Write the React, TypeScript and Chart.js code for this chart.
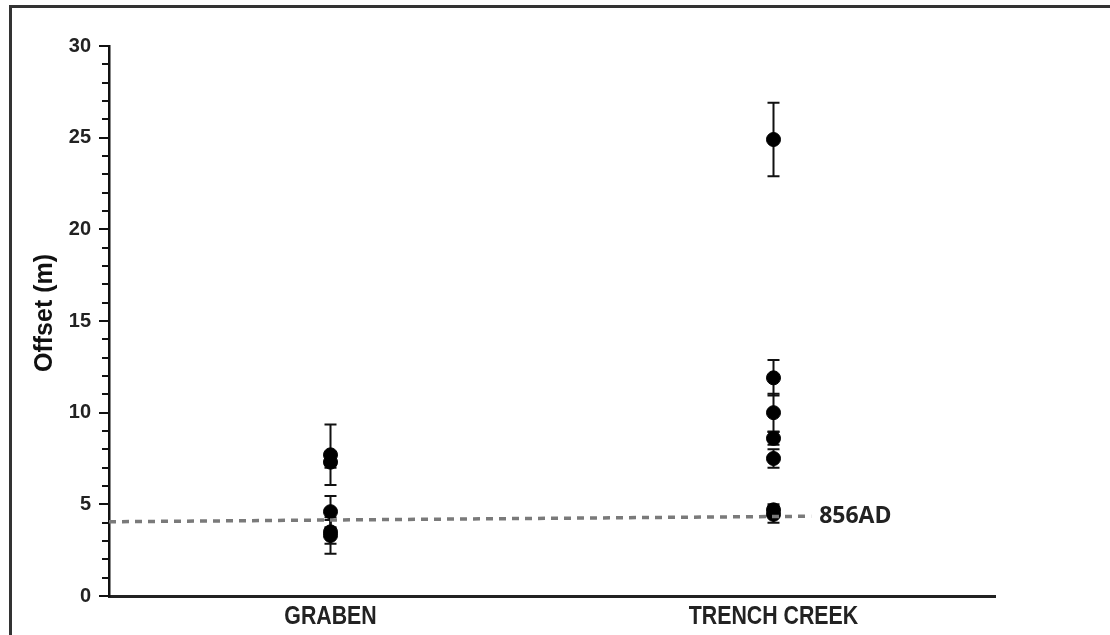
import React, { useEffect, useRef } from 'react';
import { Chart, registerables } from 'chart.js';

Chart.register(...registerables);

// ---- data ----
const categories = ['GRABEN', 'TRENCH CREEK'];
const grabenOffsets = [7.7, 7.3, 4.6, 3.5, 3.3];
const grabenErrors = [1.65, 0.3, 0.85, 0.65, 1.0];
const trenchOffsets = [24.9, 11.9, 10.0, 8.6, 7.5, 4.7, 4.45];
const trenchErrors = [2.0, 0.97, 1.03, 0.35, 0.5, 0.3, 0.45];
const eventLineX = [0, 3.17];
const eventLineY = [4.05, 4.35];
const eventLabel = '856AD';
const yMin = 0;
const yMax = 30;
const yMajorStep = 5;
const yTitle = 'Offset (m)';

// category i sits at x = 1 + 2i on a 0..4 axis
const catX = (i: number) => 1 + 2 * i;

const errorBarPlugin = {
  id: 'errorBars',
  beforeDatasetsDraw(chart: any) {
    const ctx = chart.ctx;
    const xs = chart.scales.x;
    const ys = chart.scales.y;
    chart.data.datasets.forEach((ds: any) => {
      if (!ds.errors) return;
      ds.data.forEach((p: any, i: number) => {
        const e = ds.errors[i];
        const px = xs.getPixelForValue(p.x);
        const yt = ys.getPixelForValue(p.y + e);
        const yb = ys.getPixelForValue(p.y - e);
        ctx.save();
        ctx.strokeStyle = '#111';
        ctx.lineWidth = 2;
        ctx.beginPath();
        ctx.moveTo(px, yt);
        ctx.lineTo(px, yb);
        ctx.moveTo(px - 6, yt);
        ctx.lineTo(px + 6, yt);
        ctx.moveTo(px - 6, yb);
        ctx.lineTo(px + 6, yb);
        ctx.stroke();
        ctx.restore();
      });
    });
  },
};

const axisDecorPlugin = {
  id: 'axisDecor',
  afterDraw(chart: any) {
    const ctx = chart.ctx;
    const ys = chart.scales.y;
    const xs = chart.scales.x;
    const { left, top, bottom } = chart.chartArea;
    ctx.save();
    // y tick marks (major + minor)
    ctx.strokeStyle = '#111';
    ctx.lineWidth = 2;
    ys.ticks.forEach((t: any) => {
      const py = Math.round(ys.getPixelForValue(t.value));
      const len = t.value % yMajorStep === 0 ? 10 : 7;
      ctx.beginPath();
      ctx.moveTo(left - len, py);
      ctx.lineTo(left, py);
      ctx.stroke();
    });
    // category labels (condensed bold)
    ctx.fillStyle = '#222';
    ctx.font = 'bold 26px "Liberation Sans", Arial, sans-serif';
    ctx.textAlign = 'center';
    ctx.textBaseline = 'alphabetic';
    categories.forEach((c, i) => {
      const px = xs.getPixelForValue(catX(i));
      ctx.save();
      ctx.translate(px, bottom + 28);
      ctx.scale(0.82, 1);
      ctx.fillText(c, 0, 0);
      ctx.restore();
    });
    // y axis title
    ctx.fillStyle = '#111';
    ctx.font = 'bold 25px "Liberation Sans", Arial, sans-serif';
    ctx.textAlign = 'center';
    ctx.textBaseline = 'middle';
    ctx.translate(45, (top + bottom) / 2 - 8);
    ctx.rotate(-Math.PI / 2);
    ctx.fillText(yTitle, 0, 0);
    ctx.restore();
  },
};

const eventLabelPlugin = {
  id: 'eventLabel',
  afterDatasetsDraw(chart: any) {
    const idx = chart.data.datasets.findIndex((d: any) => d.isEventLine);
    if (idx < 0) return;
    const meta = chart.getDatasetMeta(idx);
    const last = meta.data[meta.data.length - 1];
    const ctx = chart.ctx;
    ctx.save();
    ctx.fillStyle = '#222';
    ctx.font = 'bold 23px "Open Sans", "Liberation Sans", sans-serif';
    ctx.textAlign = 'left';
    ctx.textBaseline = 'middle';
    ctx.fillText(eventLabel, last.x + 8, last.y);
    ctx.restore();
  },
};

export default function App() {
  const ref = useRef<HTMLCanvasElement>(null);

  useEffect(() => {
    if (!ref.current) return;
    const chart = new Chart(ref.current, {
      type: 'scatter',
      data: {
        datasets: [
          {
            label: 'event',
            type: 'line',
            isEventLine: true,
            data: eventLineX.map((x, i) => ({ x, y: eventLineY[i] })),
            borderColor: '#7a7a7a',
            borderWidth: 3.5,
            borderDash: [7, 6],
            pointRadius: 0,
            fill: false,
            order: 0,
          } as any,
          {
            label: categories[0],
            data: grabenOffsets.map((y) => ({ x: catX(0), y })),
            errors: grabenErrors,
            backgroundColor: '#000',
            borderColor: '#000',
            pointRadius: 7,
            order: 1,
          } as any,
          {
            label: categories[1],
            data: trenchOffsets.map((y) => ({ x: catX(1), y })),
            errors: trenchErrors,
            backgroundColor: '#000',
            borderColor: '#000',
            pointRadius: 7,
            order: 1,
          } as any,
        ],
      },
      options: {
        responsive: false,
        animation: false,
        layout: { padding: { left: 0, top: 46, right: 115, bottom: 0 } },
        plugins: { legend: { display: false }, tooltip: { enabled: false } },
        scales: {
          x: {
            type: 'linear',
            min: 0,
            max: 4,
            grid: { display: false, drawTicks: false },
            border: { display: true, color: '#222', width: 3 },
            afterFit: (s: any) => {
              s.height = 39;
            },
            ticks: { display: false, stepSize: 1 },
          },
          y: {
            min: yMin,
            max: yMax,
            grid: { display: false, drawTicks: false },
            border: { display: true, color: '#111', width: 2.5 },
            afterFit: (s: any) => {
              s.width = 109;
            },
            title: { display: false },
            ticks: {
              stepSize: 1,
              autoSkip: false,
              padding: 18,
              color: '#222',
              font: { family: '"Liberation Sans", Arial, sans-serif', weight: 'bold', size: 20 },
              callback: (v: any) => (v % yMajorStep === 0 ? String(v) : ''),
            },
          },
        },
      } as any,
      plugins: [errorBarPlugin, axisDecorPlugin, eventLabelPlugin],
    });
    return () => chart.destroy();
  }, []);

  return (
    <div style={{ position: 'fixed', left: 0, top: 0, width: 1110, height: 635, background: '#fff', overflow: 'hidden' }}>
      <canvas ref={ref} width={1110} height={635} style={{ display: 'block', position: 'absolute', left: 0, top: 0 }} />
      <div
        style={{
          position: 'absolute',
          left: 9,
          top: 5,
          width: 1200,
          height: 800,
          borderTop: '3px solid #333',
          borderLeft: '3px solid #333',
          pointerEvents: 'none',
        }}
      />
    </div>
  );
}
